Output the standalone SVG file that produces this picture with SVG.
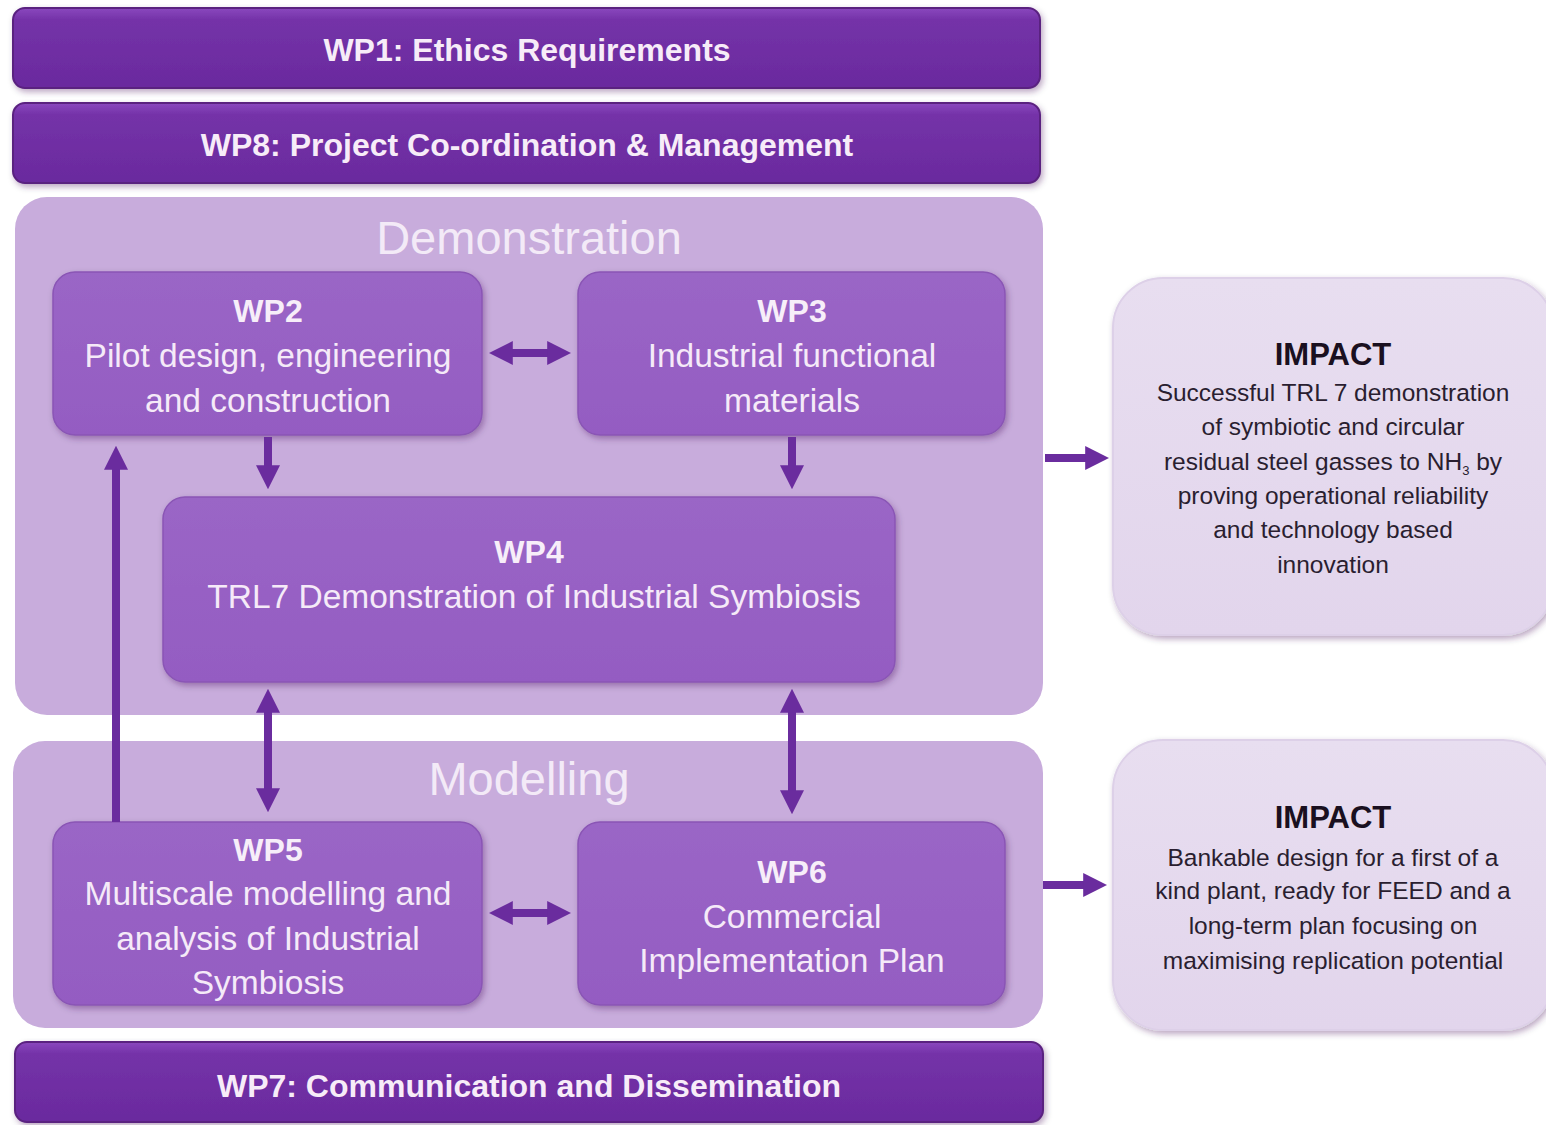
<svg xmlns="http://www.w3.org/2000/svg" width="1546" height="1125" viewBox="0 0 1546 1125">
<style>
.bar{fill:url(#gBar);stroke:#5a2080;stroke-width:2}
.panel{fill:#C8ACDC}
.wp{fill:url(#gWp);stroke:#8a55b5;stroke-width:1.5}
.imp{fill:url(#gImp);stroke:#ddd0e8;stroke-width:2}
.bt{font-family:"Liberation Sans",Arial,sans-serif;font-weight:bold;font-size:32px;fill:#F7ECF8;text-anchor:middle}
.pt{font-family:"Liberation Sans",Arial,sans-serif;font-size:47px;fill:#F3EAF7;text-anchor:middle}
.wt{font-family:"Liberation Sans",Arial,sans-serif;font-size:33.5px;fill:#F5EAF8;text-anchor:middle}
.wb{font-family:"Liberation Sans",Arial,sans-serif;font-weight:bold;font-size:32px;fill:#F7EEF9;text-anchor:middle}
.it{font-family:"Liberation Sans",Arial,sans-serif;font-weight:bold;font-size:31px;fill:#1a1020;text-anchor:middle}
.id{font-family:"Liberation Sans",Arial,sans-serif;font-size:24.5px;fill:#2a1e30;text-anchor:middle}
.ar{stroke:#6A2C9E;stroke-width:8;fill:none}
</style>
<defs>
<linearGradient id="gBar" x1="0" y1="0" x2="0" y2="1">
<stop offset="0" stop-color="#8A48BE"/><stop offset="0.15" stop-color="#7432A8"/><stop offset="1" stop-color="#6A2A9E"/>
</linearGradient>
<linearGradient id="gWp" x1="0" y1="0" x2="0" y2="1">
<stop offset="0" stop-color="#9A66C6"/><stop offset="1" stop-color="#945CC2"/>
</linearGradient>
<linearGradient id="gImp" x1="0" y1="0" x2="0" y2="1">
<stop offset="0" stop-color="#E8DEF0"/><stop offset="1" stop-color="#E2D5EC"/>
</linearGradient>
<filter id="sh" x="-5%" y="-5%" width="110%" height="120%">
<feDropShadow dx="2" dy="3" stdDeviation="3" flood-color="#3a1050" flood-opacity="0.35"/>
</filter>
<marker id="ah" viewBox="0 0 10 10" refX="2" refY="5" markerWidth="24" markerHeight="26" markerUnits="userSpaceOnUse" orient="auto-start-reverse">
<path d="M0,0 L10,5 L0,10 z" fill="#6A2C9E"/>
</marker>
</defs>

<g id="wp1"><rect class="bar" x="13" y="8" width="1027" height="80" rx="12" filter="url(#sh)"/><text class="bt" x="527" y="61">WP1: Ethics Requirements</text></g>
<g id="wp8"><rect class="bar" x="13" y="103" width="1027" height="80" rx="12" filter="url(#sh)"/><text class="bt" x="527" y="156">WP8: Project Co-ordination &amp;  Management</text></g>

<g id="demonstration"><rect class="panel" x="15" y="197" width="1028" height="518" rx="32"/><text class="pt" x="529" y="254">Demonstration</text></g>
<g id="modelling"><rect class="panel" x="13" y="741" width="1030" height="287" rx="32"/><text class="pt" x="529" y="795">Modelling</text></g>

<g id="wp2"><rect class="wp" x="53" y="272" width="429" height="163" rx="22" filter="url(#sh)"/>
<text class="wb" x="268" y="322">WP2</text><text class="wt" x="268" y="367">Pilot design, engineering</text><text class="wt" x="268" y="412">and construction</text></g>
<g id="wp3"><rect class="wp" x="578" y="272" width="427" height="163" rx="22" filter="url(#sh)"/>
<text class="wb" x="792" y="322">WP3</text><text class="wt" x="792" y="367">Industrial functional</text><text class="wt" x="792" y="412">materials</text></g>
<g id="wp4"><rect class="wp" x="163" y="497" width="732" height="185" rx="22" filter="url(#sh)"/>
<text class="wb" x="529" y="563">WP4</text><text class="wt" x="534" y="608">TRL7 Demonstration of Industrial Symbiosis</text></g>
<g id="wp5"><rect class="wp" x="53" y="822" width="429" height="183" rx="22" filter="url(#sh)"/>
<text class="wb" x="268" y="861">WP5</text><text class="wt" x="268" y="905">Multiscale modelling and</text><text class="wt" x="268" y="950">analysis of Industrial</text><text class="wt" x="268" y="994">Symbiosis</text></g>
<g id="wp6"><rect class="wp" x="578" y="822" width="427" height="183" rx="22" filter="url(#sh)"/>
<text class="wb" x="792" y="883">WP6</text><text class="wt" x="792" y="928">Commercial</text><text class="wt" x="792" y="972">Implementation Plan</text></g>
<g id="wp7"><rect class="bar" x="15" y="1042" width="1028" height="80" rx="12" filter="url(#sh)"/><text class="bt" x="529" y="1097">WP7: Communication and Dissemination</text></g>

<g id="impact1"><rect class="imp" x="1113" y="278" width="440" height="357" rx="50" filter="url(#sh)"/>
<text class="it" x="1333" y="365">IMPACT</text>
<text class="id" x="1333" y="401">Successful TRL 7 demonstration</text>
<text class="id" x="1333" y="435">of symbiotic and circular</text>
<text class="id" x="1333" y="470">residual steel gasses to NH<tspan font-size="13" dy="5">3</tspan><tspan dy="-5"> by</tspan></text>
<text class="id" x="1333" y="504">proving operational reliability</text>
<text class="id" x="1333" y="538">and technology based</text>
<text class="id" x="1333" y="573">innovation</text></g>
<g id="impact2"><rect class="imp" x="1113" y="740" width="440" height="290" rx="50" filter="url(#sh)"/>
<text class="it" x="1333" y="828">IMPACT</text>
<text class="id" x="1333" y="866">Bankable design for a first of a</text>
<text class="id" x="1333" y="899">kind plant, ready for FEED and a</text>
<text class="id" x="1333" y="934">long-term plan focusing on</text>
<text class="id" x="1333" y="969">maximising replication potential</text></g>

<g id="connectors">
<line class="ar" x1="508" y1="353" x2="552" y2="353" marker-start="url(#ah)" marker-end="url(#ah)"/>
<line class="ar" x1="508" y1="913" x2="552" y2="913" marker-start="url(#ah)" marker-end="url(#ah)"/>
<line class="ar" x1="268" y1="437" x2="268" y2="470" marker-end="url(#ah)"/>
<line class="ar" x1="792" y1="437" x2="792" y2="470" marker-end="url(#ah)"/>
<line class="ar" x1="268" y1="708" x2="268" y2="793" marker-start="url(#ah)" marker-end="url(#ah)"/>
<line class="ar" x1="792" y1="708" x2="792" y2="795" marker-start="url(#ah)" marker-end="url(#ah)"/>
<line class="ar" x1="116" y1="822" x2="116" y2="465" marker-end="url(#ah)"/>
<line class="ar" x1="1045" y1="458" x2="1090" y2="458" marker-end="url(#ah)"/>
<line class="ar" x1="1043" y1="885" x2="1088" y2="885" marker-end="url(#ah)"/>
</g>
</svg>
